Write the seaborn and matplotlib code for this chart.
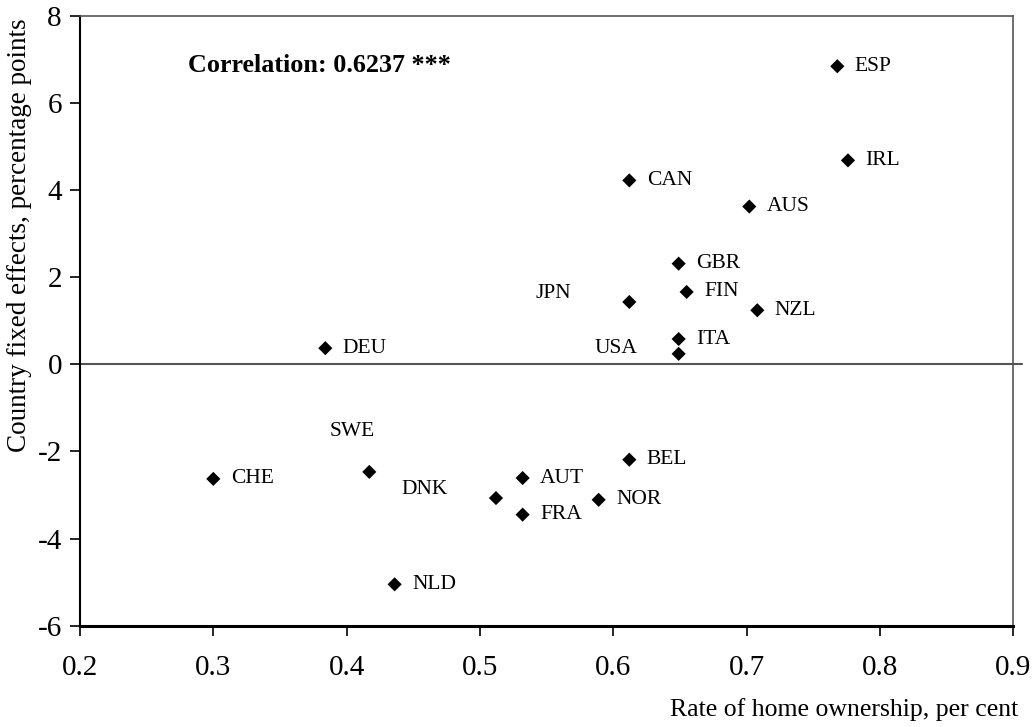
import matplotlib
matplotlib.use("Agg")
import matplotlib.pyplot as plt
import seaborn as sns
import pandas as pd

countries = ["ESP", "IRL", "CAN", "AUS", "GBR", "FIN", "JPN", "NZL", "ITA", "USA",
             "DEU", "CHE", "SWE", "DNK", "NLD", "AUT", "FRA", "NOR", "BEL"]
home_ownership = [0.768, 0.776, 0.612, 0.702, 0.649, 0.655, 0.612, 0.708, 0.649, 0.649,
                  0.384, 0.300, 0.417, 0.512, 0.436, 0.532, 0.532, 0.589, 0.612]
fixed_effects = [6.84, 4.68, 4.22, 3.62, 2.31, 1.66, 1.43, 1.24, 0.58, 0.24,
                 0.37, -2.63, -2.47, -3.07, -5.05, -2.61, -3.45, -3.11, -2.19]
x_ticks = [0.2, 0.3, 0.4, 0.5, 0.6, 0.7, 0.8, 0.9]
y_ticks = [-6, -4, -2, 0, 2, 4, 6, 8]

df = pd.DataFrame({"country": countries, "x": home_ownership, "y": fixed_effects})

sns.set_theme(style="white")
plt.rcParams["font.family"] = ["Liberation Serif", "DejaVu Serif"]

fig = plt.figure(figsize=(10.36, 7.27), dpi=100)
ax = fig.add_axes([0.0772, 0.1393, 0.9009, 0.8391])

sns.scatterplot(data=df, x="x", y="y", marker="D", s=52, color="black",
                edgecolor="none", ax=ax, zorder=3)

# label offsets (points): default right of marker
special = {
    "JPN": (-42, 6, "right"),
    "USA": (-30, 4, "right"),
    "SWE": (-12, 29, "center"),
    "DNK": (-35, 6, "right"),
}
for c, xv, yv in zip(countries, home_ownership, fixed_effects):
    dx, dy, ha = special.get(c, (12.5, 0, "left"))
    ax.annotate(c, (xv, yv), xytext=(dx, dy), textcoords="offset points",
                ha=ha, va="center", fontsize=15.5, color="black")

ax.axhline(0, color="#555555", lw=1.5, xmin=0, xmax=1.009, clip_on=False, zorder=1)

ax.set_xlim(0.2, 0.9)
ax.set_ylim(-6, 8)
ax.set_xticks(x_ticks)
ax.set_xticklabels([f"{v:.1f}" for v in x_ticks])
ax.set_yticks(y_ticks)
ax.set_yticklabels([str(v) for v in y_ticks])
ax.tick_params(axis="both", labelsize=21, colors="black", direction="out",
               length=7, width=1.2, pad=6, bottom=True, left=True)
ax.tick_params(axis="x", pad=14)

for side in ["top", "right"]:
    ax.spines[side].set_color("#555555")
    ax.spines[side].set_linewidth(1.2)
ax.spines["left"].set_color("black")
ax.spines["left"].set_linewidth(1.5)
ax.spines["bottom"].set_color("black")
ax.spines["bottom"].set_linewidth(2.2)

ax.set_xlabel("")
ax.set_ylabel("")
fig.text(0.0193, 0.677, "Country fixed effects, percentage points", rotation=90,
         ha="center", va="center", fontsize=19.5, color="black")
fig.text(0.9826, 0.0234, "Rate of home ownership, per cent", ha="right", va="center",
         fontsize=18.5, color="black")

ax.text(0.1157, 0.919, "Correlation: 0.6237 ***", transform=ax.transAxes,
        fontsize=18.8, fontweight="bold", ha="left", va="center", color="black")

ax.grid(False)
fig.savefig("out.png", dpi=100, facecolor="white")
